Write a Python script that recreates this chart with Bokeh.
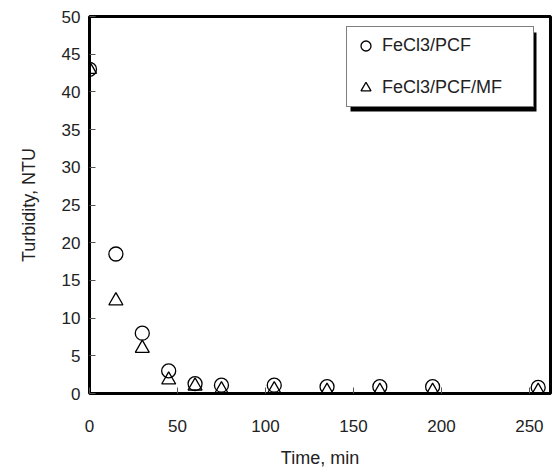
from bokeh.plotting import figure
from bokeh.models import Range1d, Legend, LegendItem, FixedTicker, BoxAnnotation
from bokeh.embed import file_html
from bokeh.resources import INLINE

time_min = [0, 15, 30, 45, 60, 75, 105, 135, 165, 195, 255]
pcf = [43, 18.5, 8, 3, 1.3, 1.1, 1.1, 0.9, 0.9, 0.9, 0.8]
pcf_mf = [43, 12.3, 6, 1.8, 1.0, 0.5, 0.5, 0.3, 0.3, 0.3, 0.3]
x_ticks = [0, 50, 100, 150, 200, 250]
y_ticks = [0, 5, 10, 15, 20, 25, 30, 35, 40, 45, 50]

FONT = "Liberation Sans"

p = figure(width=554, height=474, output_backend="svg", toolbar_location=None,
           x_range=Range1d(0, 262), y_range=Range1d(0, 50),
           min_border_left=89, min_border_right=4, min_border_top=16, min_border_bottom=81)
p.grid.visible = False
p.outline_line_color = "black"
p.outline_line_width = 3
p.background_fill_color = "white"
p.border_fill_color = "white"

for ax in (p.xaxis[0], p.yaxis[0]):
    ax.axis_line_color = None
    ax.major_tick_in = 6
    ax.major_tick_out = 0
    ax.minor_tick_line_color = None
    ax.major_tick_line_color = "#555555"
    ax.major_label_text_font = FONT
    ax.major_label_text_font_size = "17px"
    ax.major_label_text_color = "#222222"
    ax.axis_label_text_font = FONT
    ax.axis_label_text_font_size = "18px"
    ax.axis_label_text_font_style = "normal"
    ax.axis_label_text_color = "#222222"

p.xaxis.ticker = FixedTicker(ticks=x_ticks)
p.yaxis.ticker = FixedTicker(ticks=y_ticks)
p.xaxis.axis_label = "Time, min"
p.yaxis.axis_label = "Turbidity, NTU"
p.xaxis.major_label_standoff = 26
p.xaxis.axis_label_standoff = 13
p.yaxis.major_label_standoff = 9
p.yaxis.axis_label_standoff = 20

r1 = p.scatter(time_min, pcf, marker="circle", size=14, fill_color=None,
               line_color="black", line_width=1.3)
r2 = p.scatter(time_min, pcf_mf, marker="triangle", size=14, fill_color=None,
               line_color="black", line_width=1.3)

# legend drop shadow (screen units relative to the frame, y from bottom)
shadow = BoxAnnotation(left=261, right=447, bottom=282, top=361,
                       left_units="screen", right_units="screen",
                       top_units="screen", bottom_units="screen",
                       fill_color="black", fill_alpha=1.0, line_color=None)
p.add_layout(shadow)

legend = Legend(items=[LegendItem(label="FeCl3/PCF", renderers=[r1]),
                       LegendItem(label="FeCl3/PCF/MF", renderers=[r2])],
                location=(257, 286))
legend.border_line_color = "black"
legend.border_line_width = 1
legend.background_fill_color = "white"
legend.background_fill_alpha = 1.0
legend.label_text_font = FONT
legend.label_text_font_size = "18px"
legend.label_text_color = "#222222"
legend.spacing = 17
legend.padding = 6
legend.glyph_width = 25
legend.glyph_height = 25
legend.label_standoff = 4
legend.label_width = 145
p.add_layout(legend)

open("out.html", "w").write(file_html(p, INLINE))
